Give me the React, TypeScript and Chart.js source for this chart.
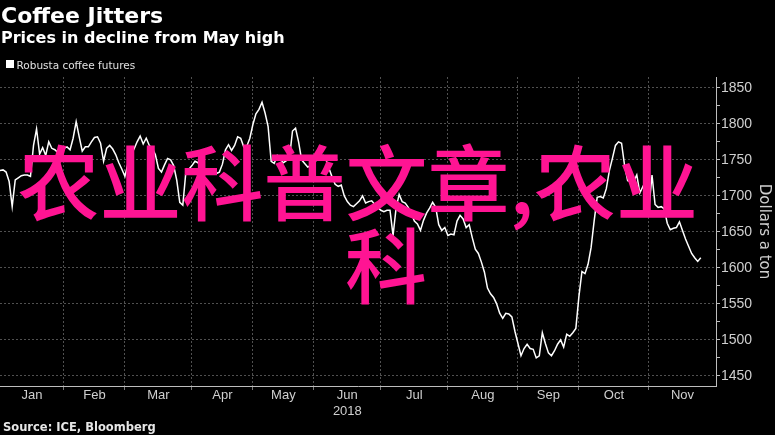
import React, { useEffect, useRef } from 'react';
import { Chart, registerables } from 'chart.js';

Chart.register(...registerables);

// ---- data ----
const months = ['Jan', 'Feb', 'Mar', 'Apr', 'May', 'Jun', 'Jul', 'Aug', 'Sep', 'Oct', 'Nov'];
const monthTradingDays = [21, 20, 22, 20, 20, 22, 22, 23, 20, 23, 22];
const yearLabel = '2018';
const yTickValues = [1450, 1475, 1500, 1525, 1550, 1575, 1600, 1625, 1650, 1675, 1700, 1725, 1750, 1775, 1800, 1825, 1850];

const jan = [1735, 1736, 1733, 1720, 1685, 1722, 1725, 1728, 1729, 1729, 1727, 1770, 1793, 1758, 1767, 1756, 1775, 1766, 1764, 1760, 1765];
const feb = [1766, 1768, 1764, 1780, 1803, 1782, 1762, 1768, 1768, 1775, 1781, 1782, 1773, 1748, 1766, 1770, 1765, 1757, 1746, 1737];
const mar = [1727, 1745, 1757, 1765, 1775, 1783, 1772, 1780, 1770, 1766, 1757, 1738, 1733, 1743, 1752, 1750, 1742, 1722, 1691, 1687, 1733, 1737];
const apr = [1742, 1748, 1746, 1740, 1734, 1733, 1735, 1736, 1731, 1733, 1744, 1764, 1771, 1763, 1770, 1782, 1780, 1768, 1769, 1780];
const may = [1799, 1814, 1820, 1830, 1815, 1796, 1748, 1745, 1756, 1750, 1746, 1749, 1752, 1790, 1794, 1775, 1750, 1745, 1740, 1742];
const jun = [1746, 1750, 1752, 1756, 1750, 1738, 1726, 1716, 1713, 1715, 1700, 1692, 1687, 1685, 1689, 1693, 1700, 1690, 1692, 1693, 1688, 1684];
const jul = [1680, 1678, 1680, 1680, 1645, 1683, 1702, 1692, 1690, 1684, 1676, 1665, 1661, 1652, 1666, 1676, 1683, 1691, 1684, 1660, 1652, 1656];
const aug = [1645, 1647, 1646, 1665, 1673, 1668, 1656, 1660, 1642, 1626, 1620, 1608, 1594, 1572, 1564, 1559, 1550, 1537, 1530, 1537, 1536, 1532, 1512];
const sep = [1495, 1478, 1488, 1494, 1488, 1487, 1475, 1478, 1510, 1495, 1482, 1478, 1485, 1494, 1500, 1490, 1508, 1505, 1510, 1516];
const oct = [1560, 1595, 1592, 1605, 1628, 1665, 1698, 1699, 1697, 1710, 1735, 1752, 1770, 1775, 1773, 1742, 1721, 1720, 1720, 1729, 1704, 1713, 1706];
const nov = [1683, 1729, 1688, 1684, 1685, 1682, 1662, 1653, 1655, 1656, 1664, 1652, 1640, 1630, 1620, 1614, 1609, 1614];

const monthlyPrices = [jan, feb, mar, apr, may, jun, jul, aug, sep, oct, nov];

const titleText = 'Coffee Jitters';
const subtitleText = 'Prices in decline from May high';
const legendText = 'Robusta coffee futures';
const sourceText = 'Source: ICE, Bloomberg';
const axisTitle = 'Dollars a ton';
const overlayLine1 = '农业科普文章,农业';
const overlayLine2 = '科';

export default function App() {
  const ref = useRef<HTMLCanvasElement>(null);

  useEffect(() => {
    const starts: number[] = [];
    let acc = 0;
    monthTradingDays.forEach((n) => {
      starts.push(acc);
      acc += n;
    });
    const total = acc;
    const points: { x: number; y: number }[] = [];
    monthlyPrices.forEach((arr, m) => arr.forEach((v, i) => points.push({ x: starts[m] + i, y: v })));
    const boundaries = starts.slice(1);
    const mids = starts.map((s, m) => s + monthTradingDays[m] / 2);
    const xTicks = [...boundaries, ...mids].sort((a, b) => a - b);
    const labelAt = new Map<number, string | string[]>(
      mids.map((v, m) => [v, m === 5 ? [months[m], yearLabel] : months[m]])
    );
    const isBoundary = (v: any) => boundaries.includes(v);

    const chart = new Chart(ref.current as HTMLCanvasElement, {
      type: 'line',
      data: {
        datasets: [
          {
            data: points,
            borderColor: '#ffffff',
            borderWidth: 1.5,
            pointRadius: 0,
            tension: 0,
            fill: false,
          },
        ],
      },
      options: {
        animation: false,
        responsive: false,
        maintainAspectRatio: false,
        events: [],
        layout: { padding: { top: 77, left: 0, right: 0, bottom: 9 } },
        plugins: { legend: { display: false }, tooltip: { enabled: false } },
        scales: {
          x: {
            type: 'linear',
            min: 0,
            max: total,
            afterBuildTicks: (s: any) => {
              s.ticks = xTicks.map((v) => ({ value: v }));
            },
            afterFit: (s: any) => {
              s.height = 40;
            },
            grid: {
              color: (c: any) => (c.tick && isBoundary(c.tick.value) ? '#505050' : 'rgba(0,0,0,0)'),
              tickColor: (c: any) => (c.tick && isBoundary(c.tick.value) ? '#777' : 'rgba(0,0,0,0)'),
              tickLength: 4,
              lineWidth: 1,
            },
            border: { color: '#bdbdbd', width: 1, dash: [2, 2] },
            ticks: {
              autoSkip: false,
              maxRotation: 0,
              minRotation: 0,
              padding: -2,
              color: '#cfcfcf',
              font: { family: 'Liberation Sans', size: 13 },
              callback: (v: any) => labelAt.get(v) ?? '',
            },
          },
          y: {
            position: 'right',
            min: 1436,
            max: 1865,
            afterBuildTicks: (s: any) => {
              s.ticks = yTickValues.map((v) => ({ value: v }));
            },
            afterFit: (s: any) => {
              s.width = 59;
            },
            grid: {
              color: (c: any) => (c.tick && c.tick.value % 50 === 0 ? '#505050' : 'rgba(0,0,0,0)'),
              tickColor: '#bdbdbd',
              tickLength: 4,
              lineWidth: 1,
            },
            border: { color: '#bdbdbd', width: 1, dash: [2, 2] },
            ticks: {
              autoSkip: false,
              padding: 1,
              color: '#cfcfcf',
              font: { family: 'Liberation Sans', size: 14 },
              callback: (v: any) => (v % 50 === 0 ? String(v) : ''),
            },
            title: {
              display: true,
              text: axisTitle,
              color: '#cfcfcf',
              font: { family: 'DejaVu Sans', size: 15 },
              padding: { top: 2, bottom: 0 },
            },
          },
        },
      },
    } as any);
    return () => chart.destroy();
  }, []);

  const abs: React.CSSProperties = { position: 'absolute', whiteSpace: 'nowrap', lineHeight: 1, margin: 0 };

  return (
    <div
      style={{
        position: 'fixed',
        left: 0,
        top: 0,
        width: 775,
        height: 435,
        background: '#000',
        overflow: 'hidden',
      }}
    >
      <canvas ref={ref} width={775} height={435} style={{ position: 'absolute', left: 0, top: 0, width: 775, height: 435, display: 'block' }} />
      <div style={{ ...abs, left: 1, top: 4.7, fontFamily: 'DejaVu Sans', fontWeight: 'bold', fontSize: 22, color: '#fff' }}>{titleText}</div>
      <div style={{ ...abs, left: 1, top: 29.8, fontFamily: 'DejaVu Sans', fontWeight: 'bold', fontSize: 16, color: '#fff' }}>{subtitleText}</div>
      <div style={{ ...abs, left: 6, top: 60, width: 8, height: 8, background: '#fff' }} />
      <div style={{ ...abs, left: 16.5, top: 60.1, fontFamily: 'DejaVu Sans', fontSize: 10.5, color: '#e0e0e0' }}>{legendText}</div>
      <div style={{ ...abs, left: 3, top: 422, fontFamily: 'DejaVu Sans', fontWeight: 'bold', fontSize: 11.5, color: '#e6e6e6' }}>{sourceText}</div>
      <div style={{ ...abs, left: 17.5, top: 138, fontFamily: '"Noto Sans CJK SC"', fontWeight: 500, fontSize: 82, lineHeight: '82px', color: '#ff1493' }}>{overlayLine1}</div>
      <div style={{ ...abs, left: 345, top: 221, fontFamily: '"Noto Sans CJK SC"', fontWeight: 500, fontSize: 82, lineHeight: '82px', color: '#ff1493' }}>{overlayLine2}</div>
    </div>
  );
}
